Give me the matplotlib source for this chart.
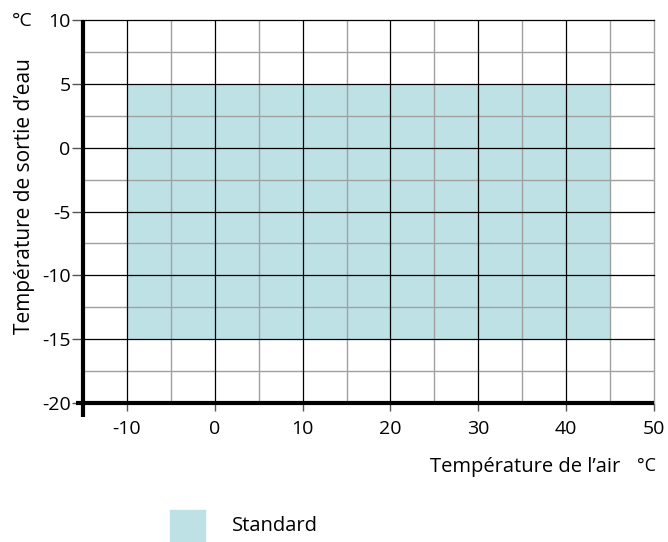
import numpy as np
import matplotlib.pyplot as plt

plt.rcParams['font.family'] = ['Open Sans', 'DejaVu Sans']

# Operating range (standard)
air_range = [-10, 45]
water_range = [-15, 5]
x_ticks = [-10, 0, 10, 20, 30, 40, 50]
y_ticks = [-20, -15, -10, -5, 0, 5, 10]
x_label = 'Température de l’air'
y_label = 'Température de sortie d’eau'
legend_label = 'Standard'

fill_color = '#bee1e6'

fig = plt.figure(figsize=(6.68, 5.42), dpi=100)
ax = fig.add_axes([0.1243, 0.2565, 0.979 - 0.1243, 0.963 - 0.2565])
ax.set_xlim(-15, 50)
ax.set_ylim(-20, 10)

# shaded operating area
ax.fill_between(air_range, water_range[0], water_range[1], color=fill_color,
                linewidth=0, zorder=1)

# grid: grey minor, black major
for x in np.arange(-5, 51, 10):
    ax.axvline(x, color='#a0a0a0', lw=1.0, zorder=2)
ax.axvline(50, color='#a0a0a0', lw=1.0, zorder=2, clip_on=False)
for x in np.arange(-10, 41, 10):
    ax.axvline(x, color='black', lw=0.9, zorder=3)
for y in np.arange(-17.5, 10, 5):
    ax.axhline(y, color='#a0a0a0', lw=1.0, zorder=2)
for y in np.arange(-15, 11, 5):
    ax.axhline(y, color='black', lw=0.9, zorder=3, clip_on=False)

for s in ax.spines.values():
    s.set_visible(False)

# thick axis lines, slightly extended past the origin
ax.plot([-15, -15], [-21.1, 10], color='black', lw=3, clip_on=False,
        solid_capstyle='butt', zorder=5)
ax.plot([-15.8, 50], [-20, -20], color='black', lw=3, clip_on=False,
        solid_capstyle='butt', zorder=5)

ax.set_xticks(x_ticks)
ax.set_xticklabels([str(v) for v in x_ticks])
ax.set_yticks(y_ticks)
ax.set_yticklabels([str(v) for v in y_ticks])
ax.tick_params(axis='x', length=6, width=1, color='#555555', pad=6,
               labelsize=14)
ax.tick_params(axis='y', length=8, width=1, color='#555555', pad=1,
               labelsize=14)

fig.text(25 / 668, 1 - 196 / 542, y_label, rotation=90, ha='center',
         va='center', fontsize=15)
fig.text(22 / 668, 1 - 21 / 542, '°C', ha='center', va='center', fontsize=14)
fig.text(620 / 668, 1 - 467 / 542, x_label, ha='right', va='center',
         fontsize=14.5)
fig.text(646 / 668, 1 - 466 / 542, '°C', ha='center', va='center', fontsize=13)

# legend
fig.patches.append(plt.Rectangle((170 / 668, 0), 35 / 668, 32 / 542,
                                 transform=fig.transFigure, color=fill_color))
fig.text(232 / 668, 1 - 526 / 542, legend_label, ha='left', va='center',
         fontsize=14.5)

fig.savefig('out.png', dpi=100)
